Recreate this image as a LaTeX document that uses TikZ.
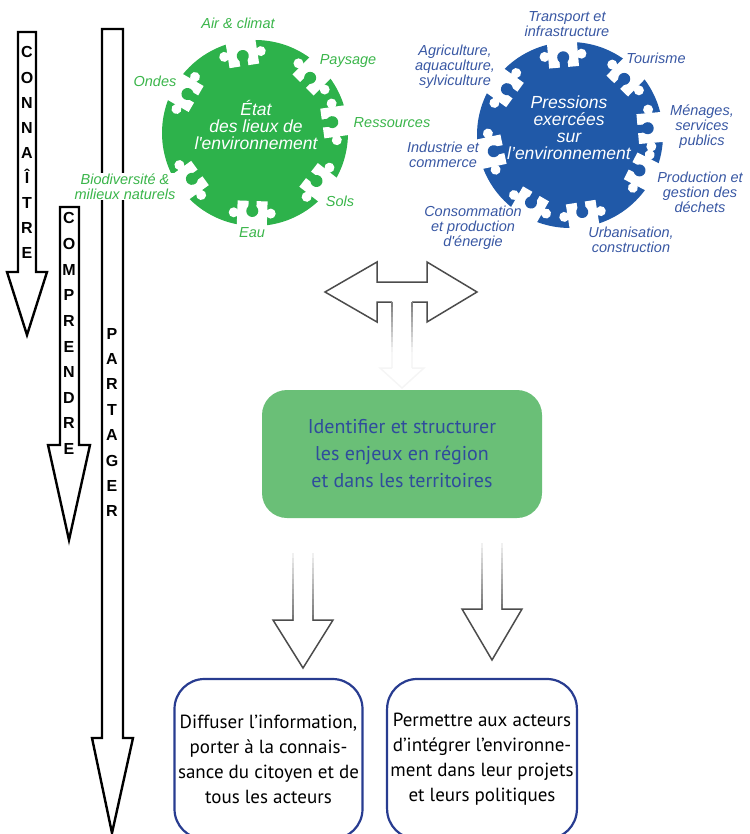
\documentclass[tikz,border=0pt]{standalone}
\usepackage{fontspec}
\setmainfont{Liberation Sans}
\newfontfamily\lblfont{Liberation Sans}
\newfontfamily\boxfont{PT Sans}
\usetikzlibrary{calc}

\definecolor{puzgreen}{HTML}{2DB24B}
\definecolor{lblgreen}{HTML}{3AB54A}
\definecolor{puzblue}{HTML}{2059A8}
\definecolor{lblblue}{HTML}{3857A3}
\definecolor{boxgreen}{HTML}{6ABF77}
\definecolor{txtblue}{HTML}{2F4C9C}
\definecolor{frameblue}{HTML}{283C90}

% white puzzle notch on the rim of a disc: centre, radius, angle, colour
\newcommand{\puzzlecut}[4]{%
  \begin{scope}[shift={#1},rotate=#3]
    \fill[white] (#2-25,-15) rectangle (#2+4,15);
    \fill[white] (#2-13,18.5) circle (5);
    \fill[white] (#2-13,-18.5) circle (5);
    \fill[#4] (#2-26,-4) rectangle (#2-17,4);
    \fill[#4] (#2-15,0) circle (6);
  \end{scope}}

\begin{document}
\begin{tikzpicture}[x=1pt,y=-1pt,
  hollow/.style={draw=black,line width=2.4pt,fill=white,line join=miter},
  letter/.style={font=\lblfont\bfseries\fontsize{16}{16}\selectfont,inner sep=0pt,anchor=base},
  greenlbl/.style={text=lblgreen,font=\lblfont\itshape\fontsize{14.5}{15}\selectfont,align=center,inner sep=1pt},
  bluelbl/.style={text=lblblue,font=\lblfont\itshape\fontsize{14.5}{15}\selectfont,align=center,inner sep=1pt},
  core/.style={text=white,font=\lblfont\itshape\fontsize{17.5}{17}\selectfont,align=center},
  puzzle/.style={circle,minimum size=186pt,inner sep=0pt},
  enjeu/.style={rounded corners=25pt,fill=boxgreen,minimum width=280pt,minimum height=128pt,
    text=txtblue,font=\boxfont\fontsize{20}{27}\selectfont,align=center},
  action/.style={draw=frameblue,line width=2.2pt,rounded corners=30pt,minimum width=188pt,
    minimum height=160pt,font=\boxfont\fontsize{19}{25}\selectfont,align=center},
  ghost/.style={line width=1.5pt}
]
\useasboundingbox (0,0) rectangle (749,834);

% the three steps on the left
\draw[hollow] (102,29) -- (123,29) -- (123,738) -- (133,738) -- (112,833) -- (92,738) -- (102,738) -- cycle;
\draw[hollow] (18,32) -- (36,32) -- (36,272) -- (47,272) -- (27,335) -- (7,272) -- (18,272) -- cycle;
\draw[hollow] (60,207) -- (79,207) -- (79,445) -- (90,445) -- (69,540) -- (48,445) -- (60,445) -- cycle;
\foreach \l [count=\i] in {C,O,N,N,A,Î,T,R,E}
  \node[letter] (con\i) at (27,{32.9+25.1*\i}) {\l};
\foreach \l [count=\i] in {C,O,M,P,R,E,N,D,R,E}
  \node[letter] (com\i) at (69,{198.4+25.6*\i}) {\l};
\foreach \l [count=\i] in {P,A,R,T,A,G,E,R}
  \node[letter] (par\i) at (112,{313.6+25.4*\i}) {\l};

% etat des lieux
\node[puzzle,fill=puzgreen] (etat) at (255,133) {};
\foreach \a in {99,45,8,-38,-92,-144,150}
  \puzzlecut{(255,133)}{93}{\a}{puzgreen};
\node[core] (etattxt) at (256,125) {État\\des lieux de\\l'environnement};
\node[greenlbl] (air) at (238,23) {Air \& climat};
\node[greenlbl] (paysage) at (348,61) {Paysage};
\node[greenlbl] (ondes) at (155,81) {Ondes};
\node[greenlbl] (ressources) at (392,123) {Ressources};
\node[greenlbl,fill=white] (biodiv) at (125,186.5) {Biodiversité \&\\milieux naturels};
\node[greenlbl] (sols) at (340,201) {Sols};
\node[greenlbl] (eau) at (252,233) {Eau};

% pressions
\node[puzzle,fill=puzblue] (press) at (570,135) {};
\foreach \a in {95,46,5,-27,-81,-120,-168,144}
  \puzzlecut{(570,135)}{93}{\a}{puzblue};
\node[core] (presstxt) at (569,128) {Pressions\\exercées\\sur\\l’environnement};
\node[bluelbl] (transport) at (567,24.5) {Transport et\\infrastructure};
\node[bluelbl] (tourisme) at (656,58) {Tourisme};
\node[bluelbl] (agri) at (455,67) {Agriculture,\\aquaculture,\\sylviculture};
\node[bluelbl] (menages) at (702,127) {Ménages,\\services\\publics};
\node[bluelbl] (industrie) at (443,154.5) {Industrie et\\commerce};
\node[bluelbl] (dechets) at (700,192) {Production et\\gestion des\\déchets};
\node[bluelbl] (energie) at (473,228) {Consommation\\et production\\d'énergie};
\node[bluelbl] (urba) at (631,240) {Urbanisation,\\construction};

% liens entre les deux et vers les enjeux
\draw[ghost,black!70,line join=miter] (392,302) -- (377,302) -- (377,322) -- (325,292) -- (377,262) -- (377,282)
  -- (427,282) -- (427,262) -- (477,292) -- (427,322) -- (427,302) -- (412,302);
\foreach \k in {0,...,12}{
  \pgfmathtruncatemacro\tone{max(50-5*\k,3)}
  \draw[ghost,black!\tone] (392,{302+5*\k}) -- (392,{307.5+5*\k}) (412,{302+5*\k}) -- (412,{307.5+5*\k});
}
\draw[ghost,black!4] (392,368) -- (380,368) -- (402,388) -- (424,368) -- (412,368);

\node[enjeu] (enjeux) at (402,454) {Identifier et structurer\\les enjeux en région\\et dans les territoires};

\foreach \k in {0,...,12}{
  \pgfmathtruncatemacro\tone{6+4*\k}
  \draw[ghost,black!\tone] (293,{553+5.15*\k}) -- (293,{558.7+5.15*\k}) (313,{553+5.15*\k}) -- (313,{558.7+5.15*\k});
  \draw[ghost,black!\tone] (482,{543+5.1*\k}) -- (482,{548.6+5.1*\k}) (502,{543+5.1*\k}) -- (502,{548.6+5.1*\k});
}
\draw[ghost,black!70,line join=miter] (293,620) -- (273,620) -- (303,668) -- (333,620) -- (313,620);
\draw[ghost,black!70,line join=miter] (482,609) -- (462,609) -- (492,660) -- (522,609) -- (502,609);

\node[action] (diffuser) at (268.5,759) {Diffuser l’information,\\porter à la connais-\\sance du citoyen et de\\tous les acteurs};
\node[action] (permettre) at (482,759) {Permettre aux acteurs\\d’intégrer l’environne-\\ment dans leur projets\\et leurs politiques};
\end{tikzpicture}
\end{document}
